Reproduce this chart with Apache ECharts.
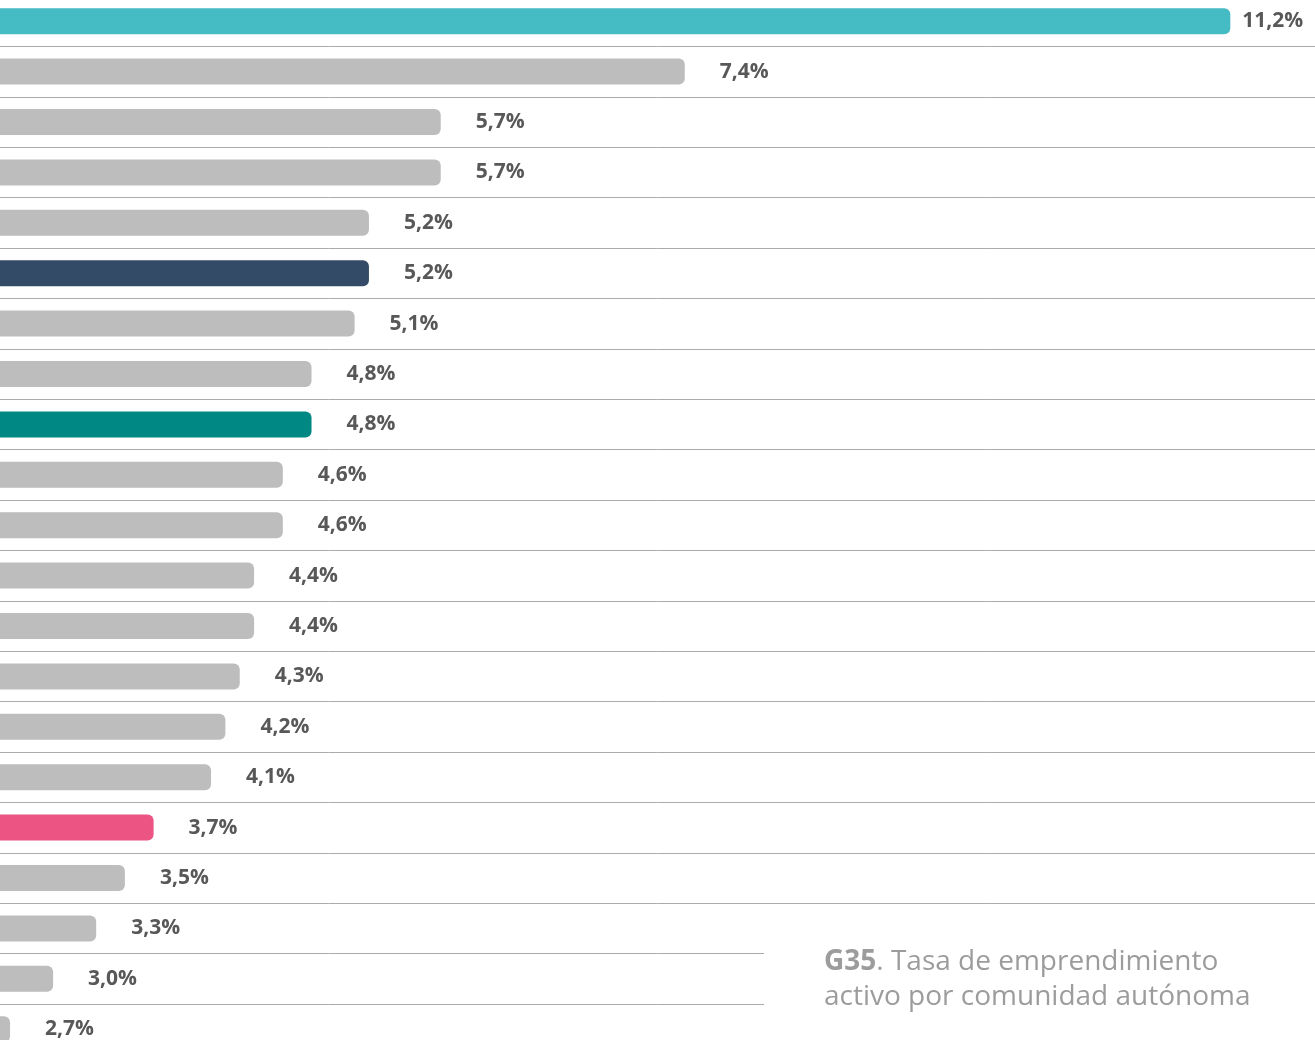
<!DOCTYPE html>
<html>
<head>
<meta charset="utf-8">
<script src="https://cdn.jsdelivr.net/npm/echarts@6/dist/echarts.min.js"></script>
<style>
  html, body { margin: 0; padding: 0; background: #ffffff; overflow: hidden; width: 1315px; height: 1040px; }
  #chart { position: absolute; left: 0; top: -4px; width: 1315px; height: 1060px; }
</style>
</head>
<body>
<div id="chart"></div>
<script>
// Tasa de emprendimiento activo (%) por comunidad autónoma, ordenada de mayor a menor
const categories = ['R01','R02','R03','R04','R05','R06','R07','R08','R09','R10','R11',
                    'R12','R13','R14','R15','R16','R17','R18','R19','R20','R21'];
const values = [11.2, 7.4, 5.7, 5.7, 5.2, 5.2, 5.1, 4.8, 4.8, 4.6, 4.6,
                4.4, 4.4, 4.3, 4.2, 4.1, 3.7, 3.5, 3.3, 3.0, 2.7];
const valueLabels = ['11,2%','7,4%','5,7%','5,7%','5,2%','5,2%','5,1%','4,8%','4,8%','4,6%','4,6%',
                     '4,4%','4,4%','4,3%','4,2%','4,1%','3,7%','3,5%','3,3%','3,0%','2,7%'];
// highlighted rows and their colours; every other row is grey
const highlightColors = { 0: '#45BBC4', 5: '#344B67', 8: '#008984', 16: '#EC5484' };
const baseColor = '#BDBDBD';

const chart = echarts.init(document.getElementById('chart'), null, { renderer: 'canvas' });

const seriesData = values.map((v, i) => ({
  value: v,
  itemStyle: { color: highlightColors[i] || baseColor },
  label: { distance: i === 0 ? 12 : 35 }
}));

chart.setOption({
  animation: false,
  backgroundColor: '#ffffff',
  grid: { left: 0, right: 0, top: 0, height: 1058.4, containLabel: false },
  xAxis: {
    type: 'value',
    min: 2.63,
    max: 11.79,
    show: false,
    splitLine: { show: false }
  },
  yAxis: {
    type: 'category',
    data: categories,
    inverse: true,
    axisLine: { show: false },
    axisTick: { show: false },
    axisLabel: { show: false },
    splitLine: { show: true, lineStyle: { color: '#ABABAB', width: 1 } }
  },
  series: [{
    type: 'bar',
    data: seriesData,
    barWidth: 26,
    itemStyle: { borderRadius: [0, 6, 6, 0] },
    label: {
      show: true,
      position: 'right',
      formatter: p => valueLabels[p.dataIndex],
      color: '#585858',
      fontFamily: 'Open Sans',
      fontWeight: 'bold',
      fontSize: 21
    }
  }],
  graphic: [
    {
      type: 'rect',
      right: 0,
      top: 934,
      shape: { width: 551, height: 130 },
      style: { fill: '#ffffff' },
      z: 100
    },
    {
      type: 'text',
      left: 824,
      top: 949,
      z: 101,
      style: {
        text: '{b|G35}. Tasa de emprendimiento\nactivo por comunidad autónoma',
        fill: '#9C9C9C',
        fontFamily: 'Open Sans',
        fontSize: 28,
        lineHeight: 35,
        rich: {
          b: { fontWeight: 'bold', fill: '#9C9C9C', fontFamily: 'Open Sans', fontSize: 28, lineHeight: 35 }
        }
      }
    }
  ]
});
</script>
</body>
</html>
